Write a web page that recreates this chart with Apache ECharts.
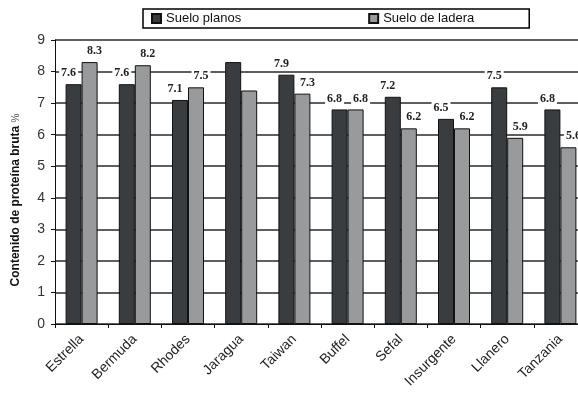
<!DOCTYPE html>
<html>
<head>
<meta charset="utf-8">
<script src="https://cdn.jsdelivr.net/npm/echarts@6/dist/echarts.min.js"></script>
<style>
html,body{margin:0;padding:0;background:#fff;}
#c{width:578px;height:398px;}
</style>
</head>
<body>
<div id="c"></div>
<script>
const categories = ['Estrella','Bermuda','Rhodes','Jaragua','Taiwan','Buffel','Sefal','Insurgente','Llanero','Tanzania'];
const seriesNames = ['Suelo planos','Suelo de ladera'];
const planos = [7.6, 7.6, 7.1, 8.3, 7.9, 6.8, 7.2, 6.5, 7.5, 6.8];
const ladera = [8.3, 8.2, 7.5, 7.4, 7.3, 6.8, 6.2, 6.2, 5.9, 5.6];
const unlabeled = ['Jaragua'];
const yTitle = 'Contenido de proteína bruta';
const yUnit = '%';

const chart = echarts.init(document.getElementById('c'), null, {renderer:'canvas'});

function mk(vals) {
  return vals.map((v, i) => ({
    value: v,
    label: {show: unlabeled.indexOf(categories[i]) < 0}
  }));
}
const labelBase = {
  position: 'top',
  distance: 5,
  fontFamily: 'Liberation Serif',
  fontWeight: 'bold',
  fontSize: 12,
  color: '#222',
  backgroundColor: '#fff',
  padding: [0, 2],
  formatter: p => p.value.toFixed(1)
};

chart.setOption({
  animation: false,
  backgroundColor: '#fff',
  grid: {left: 55, width: 532, top: 40, height: 284, containLabel: false, outerBoundsMode: 'none'},
  legend: {
    left: 143, top: 9,
    padding: [3, 55, 3, 8],
    borderColor: '#000', borderWidth: 1.5, borderRadius: 0,
    itemWidth: 9, itemHeight: 9, itemGap: 127,
    icon: 'rect',
    textStyle: {fontFamily: 'Liberation Sans', fontSize: 13, color: '#111'},
    data: seriesNames
  },
  xAxis: {
    type: 'category',
    data: categories,
    axisLine: {lineStyle: {color: '#111', width: 1}},
    axisTick: {show: true, length: 4, inside: false, lineStyle: {color: '#111'}},
    axisLabel: {rotate: 45, margin: 13, fontFamily: 'Liberation Sans', fontSize: 14, color: '#222', interval: 0},
    splitLine: {show: false}
  },
  yAxis: {
    type: 'value', min: 0, max: 9, interval: 1,
    axisLine: {show: true, lineStyle: {color: '#111', width: 1}},
    axisTick: {show: true, length: 4, lineStyle: {color: '#111'}},
    axisLabel: {margin: 10, fontFamily: 'Liberation Sans', fontSize: 14, color: '#333'},
    splitLine: {show: true, lineStyle: {color: '#2a2a2a', width: 1.5}}
  },
  graphic: [{
    type: 'text', x: 16, y: 200, rotation: Math.PI / 2,
    style: {
      text: '{b|' + yTitle + '} {p|' + yUnit + '}',
      align: 'center', verticalAlign: 'middle',
      rich: {
        b: {fontFamily: 'Liberation Sans', fontWeight: 'bold', fontSize: 12, fill: '#111'},
        p: {fontFamily: 'Liberation Sans', fontSize: 10, fill: '#555'}
      }
    }
  }],
  series: [
    {
      name: seriesNames[0], type: 'bar', barWidth: 16, barGap: '0%',
      itemStyle: {color: '#3a3d40', borderColor: '#111', borderWidth: 1},
      label: Object.assign({}, labelBase, {offset: [-5, 0]}),
      data: mk(planos)
    },
    {
      name: seriesNames[1], type: 'bar', barWidth: 16, barGap: '0%',
      itemStyle: {color: '#999a9c', borderColor: '#111', borderWidth: 1},
      label: Object.assign({}, labelBase, {offset: [5, 0]}),
      data: mk(ladera)
    }
  ]
});
</script>
</body>
</html>
